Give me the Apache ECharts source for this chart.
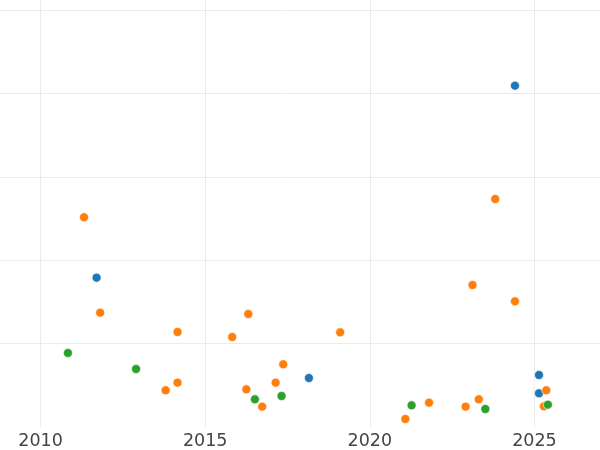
<!DOCTYPE html>
<html>
<head>
<meta charset="utf-8">
<script src="https://cdn.jsdelivr.net/npm/echarts@6/dist/echarts.min.js"></script>
<style>
html,body{margin:0;padding:0;background:#fff;overflow:hidden;width:600px;height:450px}
#wrap{position:relative;width:600px;height:450px;overflow:hidden}
#c{position:absolute;left:-127px;top:0;width:829px;height:450px}
</style>
</head>
<body>
<div id="wrap"><div id="c"></div></div>
<script>
const xTickLabels = [2010, 2015, 2020, 2025];

const blueX = [2024.41, 2011.70, 2018.15, 2025.14, 2025.14];
const blueY = [40.96, 17.92, 5.88, 6.24, 4.04];

const orangeX = [2011.32, 2023.81, 2011.81, 2014.16, 2015.82, 2016.31, 2017.37, 2013.80, 2014.16, 2016.25, 2017.14,
                 2016.73, 2019.10, 2023.12, 2024.41, 2021.08, 2021.80, 2022.91, 2023.31, 2025.36, 2025.29];
const orangeY = [25.16, 27.36, 13.72, 11.40, 10.80, 13.56, 7.52, 4.40, 5.32, 4.52, 5.32,
                 2.44, 11.36, 17.04, 15.08, 0.96, 2.92, 2.44, 3.32, 4.40, 2.48];

const greenX = [2010.83, 2012.90, 2016.51, 2017.32, 2021.27, 2023.51, 2025.41];
const greenY = [8.88, 6.96, 3.32, 3.72, 2.60, 2.16, 2.68];

const colors = ['#1f77b4', '#ff7f0e', '#2ca02c'];

function pairs(xs, ys) { return xs.map((x, i) => [x, ys[i]]); }

const chart = echarts.init(document.getElementById('c'), null, {renderer: 'canvas'});
const mk = (name, xs, ys, color) => ({
  name, type: 'scatter', data: pairs(xs, ys), symbolSize: 9,
  itemStyle: {color, borderColor: '#ffffff', borderWidth: 0.6, opacity: 1},
  emphasis: {disabled: true}
});
chart.setOption({
  animation: false,
  backgroundColor: '#ffffff',
  grid: {left: 0, right: 0, top: 0, bottom: 23, containLabel: false},
  xAxis: {
    type: 'value', min: 2005, max: 2030, interval: 5,
    axisLine: {show: false}, axisTick: {show: false},
    axisLabel: {
      color: '#444444', fontSize: 17.5, fontFamily: 'DejaVu Sans', margin: 5,
      formatter: v => xTickLabels.includes(v) ? String(v) : ''
    },
    splitLine: {show: true, showMinLine: false, showMaxLine: false, lineStyle: {color: '#ebebeb', width: 1}}
  },
  yAxis: {
    type: 'value', min: 0, max: 51.24, interval: 10,
    axisLine: {show: false}, axisTick: {show: false}, axisLabel: {show: false},
    splitLine: {show: true, showMinLine: false, showMaxLine: false, lineStyle: {color: '#ebebeb', width: 1}}
  },
  series: [
    mk('blue', blueX, blueY, colors[0]),
    mk('orange', orangeX, orangeY, colors[1]),
    mk('green', greenX, greenY, colors[2])
  ]
});
</script>
</body>
</html>
